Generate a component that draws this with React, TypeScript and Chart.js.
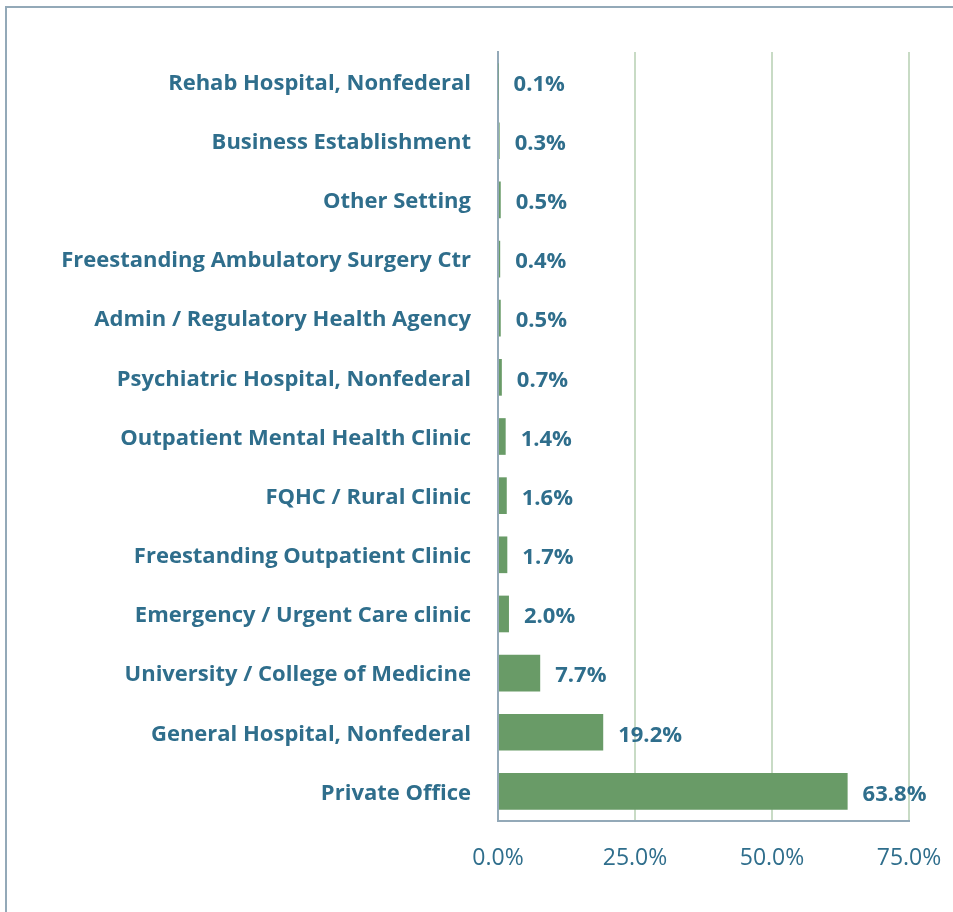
import React, { useEffect, useRef } from "react";
import { Chart, registerables } from "chart.js";

Chart.register(...registerables);

const categories = [
  "Rehab Hospital, Nonfederal",
  "Business Establishment",
  "Other Setting",
  "Freestanding Ambulatory Surgery Ctr",
  "Admin / Regulatory Health Agency",
  "Psychiatric Hospital, Nonfederal",
  "Outpatient Mental Health Clinic",
  "FQHC / Rural Clinic",
  "Freestanding Outpatient Clinic",
  "Emergency / Urgent Care clinic",
  "University / College of Medicine",
  "General Hospital, Nonfederal",
  "Private Office",
];
const values = [0.1, 0.3, 0.5, 0.4, 0.5, 0.7, 1.4, 1.6, 1.7, 2.0, 7.7, 19.2, 63.8];
const xTicks = [0, 25, 50, 75];

const TEXT = "#2F6E8C";
const BAR = "#699B67";
const GRID = "#C8DBC5";
const AXIS = "#93A9B8";
const FONT = "'Open Sans', Lato, sans-serif";

const labelPlugin = {
  id: "barLabels",
  afterDatasetsDraw(chart: any) {
    const ctx = chart.ctx;
    const meta = chart.getDatasetMeta(0);
    ctx.save();
    ctx.fillStyle = TEXT;
    ctx.font = `bold 22px ${FONT}`;
    ctx.textAlign = "left";
    ctx.textBaseline = "middle";
    meta.data.forEach((el: any, i: number) => {
      ctx.fillText(values[i].toFixed(1) + "%", el.x + 15, el.y + 3);
    });
    ctx.restore();
  },
};

export default function App() {
  const ref = useRef<HTMLCanvasElement>(null);
  useEffect(() => {
    const chart = new Chart(ref.current as HTMLCanvasElement, {
      type: "bar",
      data: {
        labels: categories,
        datasets: [
          {
            data: values,
            backgroundColor: BAR,
            borderWidth: 0,
            categoryPercentage: 1,
            barPercentage: 0.62,
          },
        ],
      },
      options: {
        indexAxis: "y",
        animation: false,
        responsive: false,
        layout: { padding: { top: 52, right: 44, left: 0, bottom: 0 } },
        plugins: { legend: { display: false }, tooltip: { enabled: false } },
        scales: {
          x: {
            min: 0,
            max: 75,
            afterBuildTicks: (scale: any) => {
              scale.ticks = xTicks.map((v) => ({ value: v }));
            },
            afterFit: (scale: any) => {
              scale.height = 91;
              scale.paddingLeft = 0;
              scale.paddingRight = 0;
            },
            grid: { color: GRID, lineWidth: 2, drawTicks: false },
            border: { display: true, color: AXIS, width: 2 },
            ticks: {
              padding: 24,
              color: TEXT,
              font: { family: FONT, size: 23 },
              callback: (v: any) => Number(v).toFixed(1) + "%",
            },
          },
          y: {
            afterFit: (scale: any) => {
              scale.width = 498;
            },
            grid: { display: false, drawTicks: false },
            border: { display: true, color: AXIS, width: 2 },
            ticks: {
              padding: 27,
              labelOffset: 2,
              color: TEXT,
              font: { family: FONT, size: 22, weight: "bold" },
            },
          },
        },
      },
      plugins: [labelPlugin],
    });
    return () => chart.destroy();
  }, []);
  return (
    <div style={{ position: "fixed", left: 0, top: 0, width: 953, height: 912, background: "#fff", overflow: "hidden" }}>
      <canvas ref={ref} width={953} height={912} style={{ position: "absolute", left: 0, top: 0 }} />
      <div
        style={{
          position: "absolute",
          left: 5,
          top: 6,
          width: 1000,
          height: 1000,
          borderLeft: `2px solid ${AXIS}`,
          borderTop: `2px solid ${AXIS}`,
          pointerEvents: "none",
        }}
      />
    </div>
  );
}
